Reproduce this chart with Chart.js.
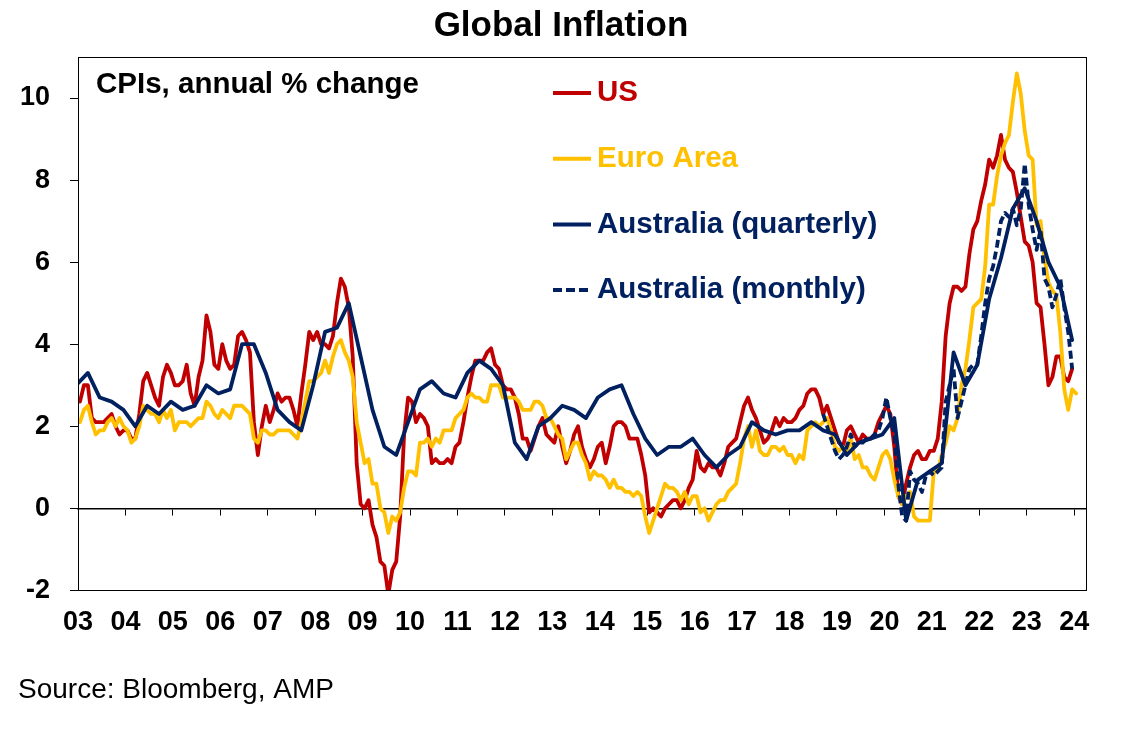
<!DOCTYPE html>
<html><head><meta charset="utf-8">
<script src="https://cdn.jsdelivr.net/npm/chart.js@4.4.1/dist/chart.umd.min.js"></script>
<style>html,body{margin:0;padding:0;background:#fff;} #wrap{width:1140px;height:735px;}</style>
</head><body><div id="wrap"><canvas id="c" width="1140" height="735"></canvas></div>
<script>
// ---- DATA ----
const chartTitle = 'Global Inflation';
const chartNote = 'CPIs, annual % change';
const sourceText = 'Source: Bloomberg, AMP';
const yearLabels = ['03','04','05','06','07','08','09','10','11','12','13','14','15','16','17','18','19','20','21','22','23','24'];
const seriesNames = ['US','Euro Area','Australia (quarterly)','Australia (monthly)'];

// US CPI, monthly Jan 2003 - Dec 2023
const usCPI = [
  2.6,3.0,3.0,2.2,2.1,2.1,2.1,2.2,2.3,2.0,1.8,1.9,
  1.9,1.7,1.7,2.3,3.1,3.3,3.0,2.7,2.5,3.2,3.5,3.3,
  3.0,3.0,3.1,3.5,2.8,2.5,3.2,3.6,4.7,4.3,3.5,3.4,
  4.0,3.6,3.4,3.5,4.2,4.3,4.1,3.8,2.1,1.3,2.0,2.5,
  2.1,2.4,2.8,2.6,2.7,2.7,2.4,2.0,2.8,3.5,4.3,4.1,
  4.3,4.0,4.0,3.9,4.2,5.0,5.6,5.4,4.9,3.7,1.1,0.1,
  0.0,0.2,-0.4,-0.7,-1.3,-1.4,-2.1,-1.5,-1.3,-0.2,1.8,2.7,
  2.6,2.1,2.3,2.2,2.0,1.1,1.2,1.1,1.1,1.2,1.1,1.5,
  1.6,2.1,2.7,3.2,3.6,3.6,3.6,3.8,3.9,3.5,3.4,3.0,
  2.9,2.9,2.7,2.3,1.7,1.7,1.4,1.7,2.0,2.2,1.8,1.7,
  1.6,2.0,1.5,1.1,1.4,1.8,2.0,1.5,1.2,1.0,1.2,1.5,
  1.6,1.1,1.5,2.0,2.1,2.1,2.0,1.7,1.7,1.7,1.3,0.8,
  -0.1,0.0,-0.1,-0.2,0.0,0.1,0.2,0.2,0.0,0.2,0.5,0.7,
  1.4,1.0,0.9,1.1,1.0,1.0,0.8,1.1,1.5,1.6,1.7,2.1,
  2.5,2.7,2.4,2.2,1.9,1.6,1.7,1.9,2.2,2.0,2.2,2.1,
  2.1,2.2,2.4,2.5,2.8,2.9,2.9,2.7,2.3,2.5,2.2,1.9,
  1.6,1.5,1.9,2.0,1.8,1.6,1.8,1.7,1.7,1.8,2.1,2.3,
  2.5,2.3,1.5,0.3,0.1,0.6,1.0,1.3,1.4,1.2,1.2,1.4,
  1.4,1.7,2.6,4.2,5.0,5.4,5.4,5.3,5.4,6.2,6.8,7.0,
  7.5,7.9,8.5,8.3,8.6,9.1,8.5,8.3,8.2,7.7,7.1,6.5,
  6.4,6.0,5.0,4.9,4.0,3.0,3.2,3.7,3.7,3.2,3.1,3.4
];
// Euro Area HICP, monthly Jan 2003 - Jan 2024
const euroCPI = [
  2.1,2.4,2.5,2.1,1.8,1.9,1.9,2.1,2.2,2.0,2.2,2.0,
  1.9,1.6,1.7,2.0,2.5,2.4,2.3,2.3,2.1,2.4,2.2,2.4,
  1.9,2.1,2.1,2.1,2.0,2.1,2.2,2.2,2.6,2.5,2.3,2.2,
  2.4,2.3,2.2,2.5,2.5,2.5,2.4,2.3,1.7,1.6,1.9,1.9,
  1.8,1.8,1.9,1.9,1.9,1.9,1.8,1.7,2.1,2.6,3.1,3.1,
  3.2,3.3,3.6,3.3,3.7,4.0,4.1,3.8,3.6,3.2,2.1,1.6,
  1.1,1.2,0.6,0.6,0.0,-0.1,-0.6,-0.2,-0.3,-0.1,0.5,0.9,
  0.9,0.8,1.6,1.6,1.7,1.5,1.7,1.6,1.9,1.9,1.9,2.2,
  2.3,2.4,2.7,2.8,2.7,2.7,2.6,2.6,3.0,3.0,3.0,2.7,
  2.7,2.7,2.7,2.6,2.4,2.4,2.4,2.6,2.6,2.5,2.2,2.2,
  2.0,1.8,1.7,1.2,1.4,1.6,1.6,1.3,1.1,0.7,0.9,0.8,
  0.8,0.7,0.5,0.7,0.5,0.5,0.4,0.4,0.3,0.4,0.3,-0.2,
  -0.6,-0.3,0.0,0.3,0.6,0.5,0.5,0.4,0.2,0.4,0.1,0.3,
  0.3,-0.1,0.0,-0.3,-0.1,0.1,0.2,0.2,0.4,0.5,0.6,1.1,
  1.7,2.0,1.5,1.9,1.4,1.3,1.3,1.5,1.5,1.4,1.5,1.3,
  1.3,1.1,1.3,1.2,1.9,2.0,2.1,2.0,2.1,2.2,1.9,1.5,
  1.4,1.5,1.4,1.7,1.2,1.3,1.0,1.0,0.8,0.7,1.0,1.3,
  1.4,1.2,0.7,0.3,0.1,0.3,0.4,-0.2,-0.3,-0.3,-0.3,-0.3,
  0.9,0.9,1.3,1.6,2.0,1.9,2.2,3.0,3.4,4.1,4.9,5.0,
  5.1,5.9,7.4,7.4,8.1,8.6,8.9,9.1,9.9,10.6,10.1,9.2,
  8.6,8.5,6.9,7.0,6.1,5.5,5.3,5.2,4.3,2.9,2.4,2.9,
  2.8
];
// Australia CPI, quarterly Dec 2002 - Dec 2023
const ausQuarterly = [
  3.0,
  3.3,2.7,2.6,2.4,
  2.0,2.5,2.3,2.6,
  2.4,2.5,3.0,2.8,
  2.9,4.0,4.0,3.3,
  2.4,2.1,1.9,3.0,
  4.3,4.4,5.0,3.7,
  2.4,1.5,1.3,2.1,
  2.9,3.1,2.8,2.7,
  3.3,3.6,3.4,3.0,
  1.6,1.2,2.0,2.2,
  2.5,2.4,2.2,2.7,
  2.9,3.0,2.3,1.7,
  1.3,1.5,1.5,1.7,
  1.3,1.0,1.3,1.5,
  2.1,1.9,1.8,1.9,
  1.9,2.1,1.9,1.8,
  1.3,1.6,1.7,1.8,
  2.2,-0.3,0.7,0.9,
  1.1,3.8,3.0,3.5,
  5.1,6.1,7.3,7.8,
  7.0,6.0,5.4,4.1
];
// Australia monthly CPI indicator, Sep 2018 - Dec 2023
const ausMonthly = [
  2.3,2.0,1.7,1.4,
  1.2,1.3,1.5,1.8,1.5,1.6,1.6,1.7,1.7,1.8,1.9,2.2,
  2.7,2.2,1.8,0.6,-0.2,-0.3,0.9,0.7,0.6,0.4,0.8,0.9,
  0.8,0.9,1.0,2.6,3.0,3.4,2.2,2.6,3.0,3.4,3.5,3.5,
  4.2,5.0,5.6,5.9,6.4,7.0,7.2,7.1,7.3,6.9,7.3,8.4,
  7.4,6.8,6.3,6.8,5.6,5.4,4.9,5.2,5.6,4.9,4.3,3.4
];

// ---- helpers: months since Jan 2003, points at mid-month ----
const monthly = (vals, startIdx) => vals.map((v, i) => ({x: startIdx + i + 0.5, y: v}));
const quarterly = (vals, startIdx) => vals.map((v, i) => ({x: startIdx + 3 * i + 0.5, y: v}));
const AUS_MONTHLY_START = 15 * 12 + 8; // Sep 2018
const AUS_Q_START = -1;                // Dec 2002

const FONT = '"Liberation Sans", Arial, sans-serif';

const overlay = {
  id: 'overlay',
  afterDraw(chart) {
    const {ctx, chartArea: a} = chart;
    ctx.save();
    // plot frame
    ctx.strokeStyle = '#000';
    ctx.lineWidth = 1;
    ctx.strokeRect(Math.round(a.left) + 0.5, Math.round(a.top) + 0.5, Math.round(a.right - a.left), Math.round(a.bottom - a.top));
    // note
    ctx.font = 'bold 29.5px ' + FONT;
    ctx.fillStyle = '#000';
    ctx.textBaseline = 'middle';
    ctx.textAlign = 'left';
    ctx.fillText(chartNote, a.left + 18, a.top + 28);
    // legend
    const lx = a.left + 475, ly = a.top + 36, gap = 65.7;
    chart.data.datasets.forEach((ds, i) => {
      const y = ly + i * gap;
      ctx.strokeStyle = ds.borderColor;
      ctx.lineWidth = 4;
      ctx.setLineDash(ds.borderDash && ds.borderDash.length ? [9, 4] : []);
      ctx.lineCap = 'butt';
      ctx.beginPath();
      ctx.moveTo(lx, y);
      ctx.lineTo(lx + 38, y);
      ctx.stroke();
      ctx.setLineDash([]);
      ctx.fillStyle = ds.borderColor;
      ctx.fillText(ds.label, lx + 44, y);
    });
    ctx.restore();
  }
};

const lineStyle = {pointRadius: 0, borderWidth: 3.8, tension: 0, borderJoinStyle: 'round', borderCapStyle: 'round', clip: 0, fill: false};

new Chart(document.getElementById('c'), {
  type: 'line',
  data: {
    datasets: [
      Object.assign({label: seriesNames[0], data: monthly(usCPI, 0), borderColor: '#C00000', order: 3}, lineStyle),
      Object.assign({label: seriesNames[1], data: monthly(euroCPI, 0), borderColor: '#FFC000', order: 2}, lineStyle),
      Object.assign({label: seriesNames[2], data: quarterly(ausQuarterly, AUS_Q_START), borderColor: '#002060', order: 1}, lineStyle),
      Object.assign({label: seriesNames[3], data: monthly(ausMonthly, AUS_MONTHLY_START), borderColor: '#002060', borderDash: [8, 4], order: 0}, lineStyle, {borderCapStyle: 'butt'})
    ]
  },
  options: {
    responsive: false,
    animation: false,
    devicePixelRatio: 1,
    layout: {padding: {left: 18, right: 36, top: 0, bottom: 0}},
    plugins: {
      legend: {display: false},
      tooltip: {enabled: false},
      title: {display: true, text: chartTitle, color: '#000', font: {family: FONT, size: 35, weight: 'bold'}, padding: {top: 5, bottom: 10}},
      subtitle: {display: true, text: sourceText, position: 'bottom', align: 'start', color: '#000', font: {family: FONT, size: 28, weight: 'normal'}, padding: {top: 36, bottom: 28}}
    },
    scales: {
      x: {
        type: 'linear', position: 'bottom', min: 0, max: 255,
        afterFit(s) { s.height = 47; },
        grid: {display: false, drawTicks: false},
        border: {display: true, color: '#000', width: 1},
        ticks: {stepSize: 12, includeBounds: false, autoSkip: false, maxRotation: 0, padding: 16, color: '#000',
          font: {family: FONT, size: 27, weight: 'bold'},
          callback: v => yearLabels[Math.round(v / 12)]}
      },
      x2: {
        type: 'linear', axis: 'x', position: {y: 0}, min: 0, max: 255,
        grid: {display: true, drawOnChartArea: false, drawTicks: true, tickLength: 6, tickColor: '#000', tickWidth: 1},
        border: {display: true, color: '#000', width: 1.5},
        ticks: {display: false, stepSize: 12, includeBounds: false, autoSkip: false}
      },
      y: {
        type: 'linear', position: 'left', min: -2, max: 11,
        afterFit(s) { s.width = 60; },
        grid: {display: true, drawOnChartArea: false, drawTicks: true, tickLength: 8, tickColor: '#000', tickWidth: 1},
        border: {display: true, color: '#000', width: 1},
        ticks: {stepSize: 2, includeBounds: false, padding: 20, color: '#000', font: {family: FONT, size: 27, weight: 'bold'}}
      },
      yRight: {
        type: 'linear', position: 'right', min: -2, max: 11,
        afterFit(s) { s.width = 18; },
        grid: {display: false, drawTicks: false},
        border: {display: false},
        ticks: {display: false}
      }
    }
  },
  plugins: [overlay]
});
</script>
</body></html>
